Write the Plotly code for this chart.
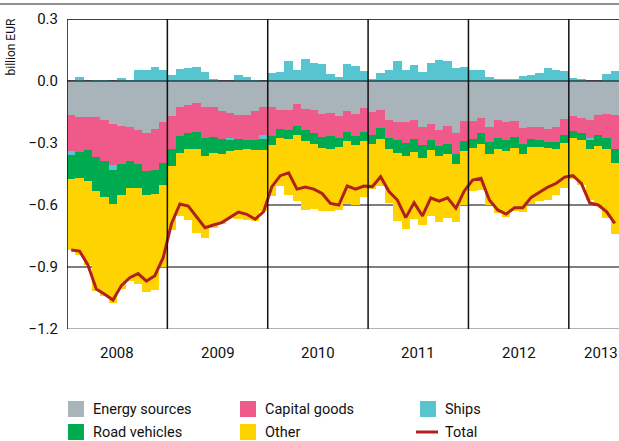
import plotly.graph_objects as go

# ---- data (billion EUR, monthly Jan 2008 - Jun 2013) ----
years = ["2008", "2009", "2010", "2011", "2012", "2013"]

energy = [
    -0.165, -0.174, -0.174, -0.174, -0.189, -0.208, -0.218, -0.221, -0.235, -0.250, -0.231, -0.198,
    -0.169, -0.126, -0.116, -0.106, -0.126, -0.126, -0.145, -0.155, -0.165, -0.165, -0.145, -0.126,
    -0.126, -0.140, -0.140, -0.111, -0.135, -0.140, -0.160, -0.155, -0.169, -0.145, -0.160, -0.131,
    -0.150, -0.140, -0.189, -0.198, -0.198, -0.189, -0.223, -0.208, -0.237, -0.218, -0.252, -0.194,
    -0.194, -0.179, -0.223, -0.189, -0.198, -0.194, -0.227, -0.223, -0.223, -0.232, -0.223, -0.184,
    -0.169, -0.179, -0.189, -0.165, -0.160, -0.165,
]
capital = [
    -0.174, -0.169, -0.160, -0.194, -0.198, -0.198, -0.184, -0.165, -0.169, -0.184, -0.198, -0.198,
    -0.160, -0.140, -0.135, -0.140, -0.150, -0.145, -0.135, -0.121, -0.116, -0.121, -0.140, -0.135,
    -0.140, -0.092, -0.097, -0.106, -0.102, -0.111, -0.111, -0.111, -0.106, -0.102, -0.106, -0.116,
    -0.111, -0.087, -0.087, -0.087, -0.102, -0.092, -0.087, -0.077, -0.077, -0.087, -0.102, -0.097,
    -0.087, -0.073, -0.073, -0.087, -0.087, -0.077, -0.077, -0.058, -0.063, -0.063, -0.073, -0.077,
    -0.073, -0.073, -0.087, -0.097, -0.116, -0.165,
]
ships = [
    -0.019, 0.019, 0.000, 0.005, 0.005, -0.024, 0.015, 0.005, 0.055, 0.055, 0.068, 0.055,
    0.029, 0.058, 0.063, 0.068, 0.044, 0.010, 0.000, -0.010, 0.029, 0.019, 0.005, -0.018,
    0.039, 0.044, 0.097, 0.055, 0.106, 0.087, 0.082, 0.034, 0.019, 0.082, 0.073, 0.048,
    0.010, 0.039, 0.053, 0.097, 0.053, 0.077, 0.044, 0.087, 0.102, 0.097, 0.063, 0.068,
    0.053, 0.053, 0.019, 0.010, 0.010, 0.010, 0.024, 0.029, 0.039, 0.063, 0.055, 0.048,
    0.015, 0.010, -0.010, 0.000, 0.034, 0.048,
]
road = [
    -0.116, -0.126, -0.150, -0.165, -0.174, -0.165, -0.150, -0.131, -0.116, -0.116, -0.116, -0.106,
    -0.082, -0.082, -0.077, -0.082, -0.087, -0.077, -0.073, -0.053, -0.053, -0.044, -0.048, -0.053,
    -0.044, -0.044, -0.044, -0.044, -0.053, -0.053, -0.053, -0.063, -0.044, -0.044, -0.044, -0.044,
    -0.044, -0.053, -0.053, -0.063, -0.063, -0.063, -0.063, -0.048, -0.048, -0.048, -0.048, -0.048,
    -0.044, -0.053, -0.058, -0.053, -0.053, -0.053, -0.048, -0.039, -0.034, -0.029, -0.034, -0.039,
    -0.034, -0.034, -0.044, -0.053, -0.053, -0.068,
]
other = [
    -0.344, -0.373, -0.406, -0.482, -0.477, -0.477, -0.456, -0.450, -0.461, -0.471, -0.466, -0.400,
    -0.310, -0.305, -0.344, -0.406, -0.397, -0.363, -0.339, -0.324, -0.334, -0.344, -0.342, -0.298,
    -0.247, -0.232, -0.271, -0.318, -0.332, -0.313, -0.303, -0.298, -0.303, -0.305, -0.289, -0.271,
    -0.216, -0.226, -0.261, -0.329, -0.355, -0.323, -0.326, -0.321, -0.321, -0.311, -0.279, -0.263,
    -0.208, -0.221, -0.244, -0.308, -0.318, -0.303, -0.284, -0.274, -0.261, -0.253, -0.224, -0.218,
    -0.197, -0.219, -0.245, -0.285, -0.335, -0.340,
]
total = [
    -0.818, -0.823, -0.890, -1.006, -1.032, -1.060, -0.990, -0.952, -0.932, -0.968, -0.942, -0.855,
    -0.689, -0.595, -0.605, -0.656, -0.710, -0.697, -0.685, -0.660, -0.634, -0.645, -0.669, -0.632,
    -0.511, -0.458, -0.444, -0.523, -0.513, -0.523, -0.544, -0.592, -0.600, -0.508, -0.523, -0.508,
    -0.511, -0.463, -0.535, -0.576, -0.661, -0.589, -0.653, -0.566, -0.581, -0.565, -0.616, -0.532,
    -0.479, -0.471, -0.576, -0.624, -0.644, -0.613, -0.613, -0.563, -0.539, -0.513, -0.495, -0.465,
    -0.458, -0.495, -0.590, -0.600, -0.632, -0.689,
]
ytick_vals = [0.3, 0.0, -0.3, -0.6, -0.9, -1.2]
ytick_text = ["0.3", "0.0", "\u22120.3", "\u22120.6", "\u22120.9", "\u22121.2"]

months = list(range(len(total)))

C_ENERGY = "#A8B4BA"
C_CAPITAL = "#EF5A8A"
C_SHIPS = "#57C5D0"
C_ROAD = "#00AA4F"
C_OTHER = "#FFD300"
C_TOTAL = "#B0211F"

FONT = "Roboto, Liberation Sans, sans-serif"

fig = go.Figure()
for name, vals, col in [
    ("Energy sources", energy, C_ENERGY),
    ("Capital goods", capital, C_CAPITAL),
    ("Ships", ships, C_SHIPS),
    ("Road vehicles", road, C_ROAD),
    ("Other", other, C_OTHER),
]:
    fig.add_trace(go.Bar(x=months, y=vals, name=name, marker_color=col,
                         marker_line_width=0, showlegend=False, hoverinfo="skip"))
fig.add_trace(go.Scatter(x=months, y=total, name="Total", mode="lines",
                         line=dict(color=C_TOTAL, width=3), showlegend=False, hoverinfo="skip"))

W, H = 619, 441
P_LEFT, P_RIGHT, P_TOP, P_BOTTOM = 67, 619, 19, 329
L, T = P_LEFT, P_TOP
PW = P_RIGHT - P_LEFT
PH = P_BOTTOM - P_TOP
R = W - L - PW
B = H - T - PH


def px(x):
    return (x - P_LEFT) / PW


def py(y):
    return (P_BOTTOM - y) / PH


shapes = []
for yv in [0.0, -0.3, -0.6, -0.9]:
    shapes.append(dict(type="line", xref="paper", yref="y", x0=0, x1=1, y0=yv, y1=yv,
                       line=dict(color="black", width=1.2), layer="below"))
shapes.append(dict(type="line", xref="paper", yref="y", x0=0, x1=1, y0=-1.2, y1=-1.2,
                   line=dict(color="#9a9a9a", width=1.5), layer="below"))
shapes.append(dict(type="line", xref="paper", yref="y", x0=0, x1=1, y0=0, y1=0,
                   line=dict(color="black", width=1.2), layer="above"))
shapes.append(dict(type="line", xref="paper", yref="y", x0=0, x1=1, y0=0.3, y1=0.3,
                   line=dict(color="black", width=1.5), layer="above"))
for xv in [-0.5, 11.5, 23.5, 35.5, 47.5, 59.5]:
    shapes.append(dict(type="line", xref="x", yref="y", x0=xv, x1=xv, y0=-1.2, y1=0.3,
                       line=dict(color="#111", width=1.5), layer="above"))
# header rule
shapes.append(dict(type="line", xref="paper", yref="paper", x0=px(0), x1=px(619), y0=py(4), y1=py(4),
                   line=dict(color="#222", width=1.2)))

annotations = []
year_pos = [5.5, 17.5, 29.5, 41.5, 53.5, 63.3]
for yr, xp in zip(years, year_pos):
    annotations.append(dict(x=xp, y=py(353), xref="x", yref="paper", text=yr, showarrow=False,
                            xanchor="center", yanchor="middle",
                            font=dict(family=FONT, size=15, color="#111")))
annotations.append(dict(x=px(10), y=py(17), xref="paper", yref="paper", text="billion EUR",
                        textangle=-90, showarrow=False, xanchor="center", yanchor="top",
                        font=dict(family=FONT, size=12, color="#111")))

legend_items = [
    ("Energy sources", C_ENERGY, 68, 409, "box"),
    ("Capital goods", C_CAPITAL, 240, 409, "box"),
    ("Ships", C_SHIPS, 420, 409, "box"),
    ("Road vehicles", C_ROAD, 68, 432, "box"),
    ("Other", C_OTHER, 240, 432, "box"),
    ("Total", C_TOTAL, 420, 432, "line"),
]
for label, col, x0, yc, kind in legend_items:
    if kind == "box":
        shapes.append(dict(type="rect", xref="paper", yref="paper",
                           x0=px(x0), x1=px(x0 + 16), y0=py(yc + 8), y1=py(yc - 8),
                           fillcolor=col, line=dict(width=0)))
    else:
        shapes.append(dict(type="line", xref="paper", yref="paper",
                           x0=px(x0 - 4), x1=px(x0 + 18), y0=py(yc), y1=py(yc),
                           line=dict(color=col, width=3)))
    annotations.append(dict(x=px(x0 + 23), y=py(yc), xref="paper", yref="paper", text=label,
                            showarrow=False, xanchor="left", yanchor="middle",
                            font=dict(family=FONT, size=14.5, color="#111")))

fig.update_layout(
    width=W, height=H,
    margin=dict(l=L, r=R, t=T, b=B, pad=0),
    paper_bgcolor="white", plot_bgcolor="white",
    barmode="relative", bargap=0,
    showlegend=False,
    hovermode=False,
    xaxis=dict(range=[-0.5, 65.5], showgrid=False, zeroline=False, showline=False,
               showticklabels=False, ticks="", fixedrange=True),
    yaxis=dict(range=[-1.2, 0.3], tickvals=ytick_vals, ticktext=ytick_text,
               showgrid=False, zeroline=False, showline=False, ticks="",
               ticklabelstandoff=8, fixedrange=True,
               tickfont=dict(family=FONT, size=15, color="#111")),
    shapes=shapes,
    annotations=annotations,
)

# remove the browser's default page margin so the figure sits at the window origin
fig.write_html("out.html",
               config={"displayModeBar": False, "staticPlot": True},
               post_script="document.body.style.margin='0';document.body.style.overflow='hidden';")
